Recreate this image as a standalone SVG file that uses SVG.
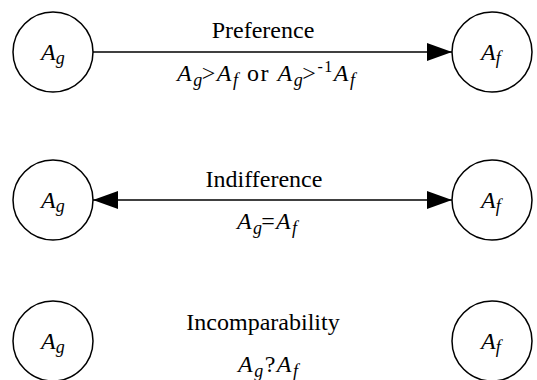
<svg xmlns="http://www.w3.org/2000/svg" width="537" height="380" viewBox="0 0 537 380">
<style>
.n{fill:#fff;stroke:#000;stroke-width:1.5}
.t{font-family:"Liberation Serif","Times New Roman",serif;font-size:24px;fill:#000}
.i{font-style:italic}
.s{font-size:18px;font-style:italic}
.c{stroke:#000;stroke-width:1.5;fill:none}
</style>
<defs>
<marker id="ah" viewBox="0 0 25 18" refX="25" refY="9" markerWidth="25" markerHeight="18" markerUnits="userSpaceOnUse" orient="auto-start-reverse">
<path d="M0,0 L25,9 L0,18 Z" fill="#000"/>
</marker>
</defs>
<g id="connectors">
<line class="c" x1="93" y1="52" x2="452" y2="52" marker-end="url(#ah)"/>
<line class="c" x1="93" y1="200" x2="452" y2="200" marker-start="url(#ah)" marker-end="url(#ah)"/>
</g>
<g id="g1"><circle class="n" cx="53" cy="52" r="40"/><text class="t" x="41" y="60"><tspan class="i">A</tspan><tspan class="s" dy="4">g</tspan></text></g>
<g id="f1"><circle class="n" cx="492" cy="52" r="40"/><text class="t" x="481" y="60"><tspan class="i">A</tspan><tspan class="s" dy="4">f</tspan></text></g>
<g id="g2"><circle class="n" cx="53" cy="200" r="40"/><text class="t" x="41" y="208"><tspan class="i">A</tspan><tspan class="s" dy="4">g</tspan></text></g>
<g id="f2"><circle class="n" cx="492" cy="200" r="40"/><text class="t" x="481" y="208"><tspan class="i">A</tspan><tspan class="s" dy="4">f</tspan></text></g>
<g id="g3"><circle class="n" cx="53" cy="341" r="40"/><text class="t" x="41" y="349"><tspan class="i">A</tspan><tspan class="s" dy="4">g</tspan></text></g>
<g id="f3"><circle class="n" cx="492" cy="341" r="40"/><text class="t" x="481" y="349"><tspan class="i">A</tspan><tspan class="s" dy="4">f</tspan></text></g>
<g id="labels">
<text class="t" x="263" y="38" text-anchor="middle">Preference</text>
<text class="t" x="177" y="81" textLength="178" lengthAdjust="spacing"><tspan class="i">A</tspan><tspan class="s" dy="5">g</tspan><tspan dy="-5" dx="-2">&gt;</tspan><tspan class="i">A</tspan><tspan class="s" dy="5">f</tspan><tspan dy="-5"> or  </tspan><tspan class="i">A</tspan><tspan class="s" dy="5">g</tspan><tspan dy="-5" dx="-2">&gt;</tspan><tspan font-size="16" dy="-9">-1</tspan><tspan class="i" dy="9">A</tspan><tspan class="s" dy="5">f</tspan></text>
<text class="t" x="264" y="187" text-anchor="middle">Indifference</text>
<text class="t" x="237" y="229" textLength="60" lengthAdjust="spacing"><tspan class="i">A</tspan><tspan class="s" dy="5">g</tspan><tspan dy="-5" dx="-2">=</tspan><tspan class="i">A</tspan><tspan class="s" dy="5">f</tspan></text>
<text class="t" x="263" y="330" text-anchor="middle">Incomparability</text>
<text class="t" x="238" y="372" textLength="60" lengthAdjust="spacing"><tspan class="i">A</tspan><tspan class="s" dy="5">g</tspan><tspan dy="-5">?</tspan><tspan class="i">A</tspan><tspan class="s" dy="5">f</tspan></text>
</g>
</svg>
